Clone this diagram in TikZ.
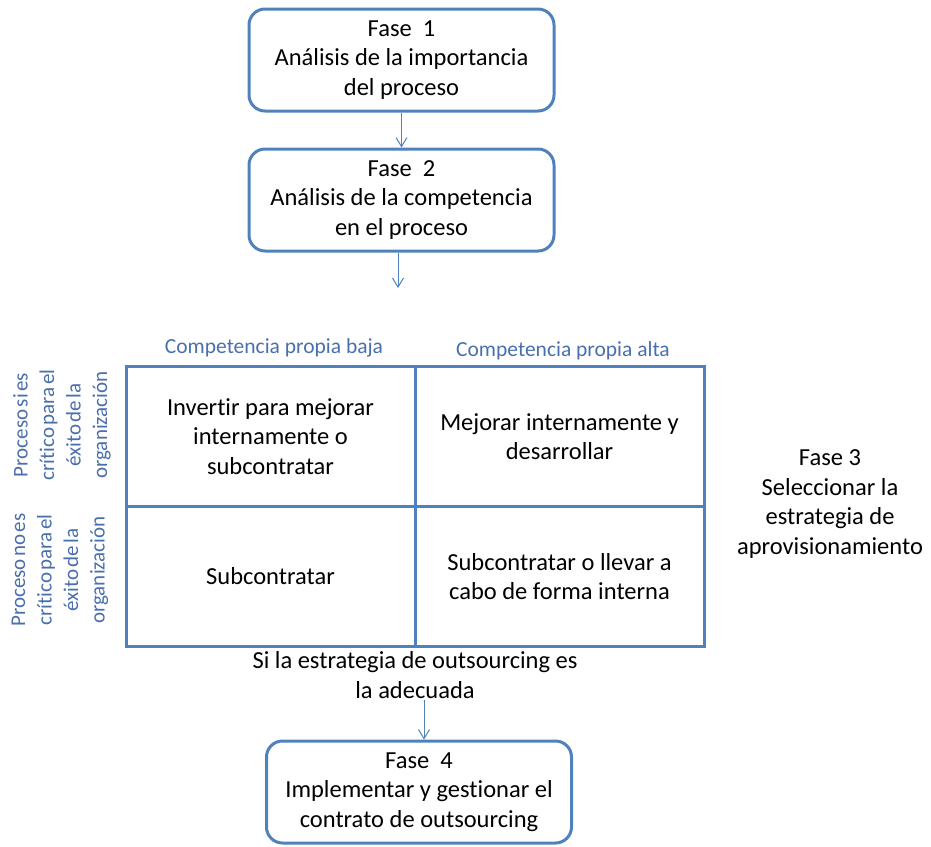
\documentclass[tikz,border=0pt]{standalone}
\usepackage{fontspec}
\setmainfont{Carlito}[Ligatures=NoCommon]
\usetikzlibrary{arrows.meta}
\definecolor{frame}{HTML}{4F81BD}
\definecolor{labelblue}{HTML}{4A6FAE}
\newcommand\tightwords{\spaceskip=2.5pt\relax}
\begin{document}
\begin{tikzpicture}[x=1pt,y=-1pt,
  phase/.style={draw=frame, line width=3pt, rounded corners=16pt, minimum width=305pt,
    minimum height=102pt, align=center, inner sep=0pt,
    font=\fontsize{24.5}{29.5}\selectfont},
  cell/.style={draw=frame, line width=3pt, minimum width=289pt, minimum height=140pt,
    align=center, inner sep=0pt, font=\fontsize{24.5}{29.5}\selectfont},
  plain/.style={align=center, inner sep=0pt, font=\fontsize{24.5}{29.5}\selectfont},
  head/.style={text=labelblue, inner sep=0pt, font=\fontsize{21.5}{24}\selectfont},
  side/.style={text=labelblue, align=center, inner sep=0pt, rotate=90,
    font=\fontsize{21}{26.5}\selectfont\tightwords},
  flow/.style={draw=frame, line width=1pt, -{Straight Barb[length=9pt,width=11pt]}}]
\useasboundingbox (0,0) rectangle (931,846);

% phase boxes
\node[phase] (f1) at (401.5,60) {Fase\ \ 1\\Análisis de la importancia\\del proceso};
\node[phase] (f2) at (401.5,200) {Fase\ \ 2\\Análisis de la competencia\\en el proceso};
\node[phase] (f4) at (419,792) {Fase\ \ 4\\Implementar y gestionar el\\contrato de outsourcing};

% decision matrix
\node[cell] (tl) at (270.5,436.5) {Invertir para mejorar\\internamente o\\subcontratar};
\node[cell] (tr) at (559.5,436.5) {Mejorar internamente y\\desarrollar};
\node[cell] (bl) at (270.5,576.5) {Subcontratar};
\node[cell] (br) at (559.5,576.5) {Subcontratar o llevar a\\cabo de forma interna};

% axis labels
\node[head] (hlow) at (274,348) {Competencia propia baja};
\node[head] (hhigh) at (563,351) {Competencia propia alta};
\node[side] (scrit) at (62,425) {Proceso si es\\crítico para el\\éxito de la\\organización};
\node[side] (snon) at (60,570) {Proceso no es\\crítico para el\\éxito de la\\organización};

% phase 3 caption and condition
\node[plain] (f3) at (830,504) {Fase 3\\Seleccionar la\\estrategia de\\aprovisionamiento};
\node[plain] (cond) at (415,675) {Si la estrategia de outsourcing es\\la adecuada};

% connectors
\coordinate (f2end) at (398,288);
\coordinate (condout) at (424,700);
\draw[flow] (f1.south) -- (f2.north);
\draw[flow] (f2.south -| f2end) -- (f2end);
\draw[flow] (condout) -- (f4.north -| condout);
\end{tikzpicture}
\end{document}
